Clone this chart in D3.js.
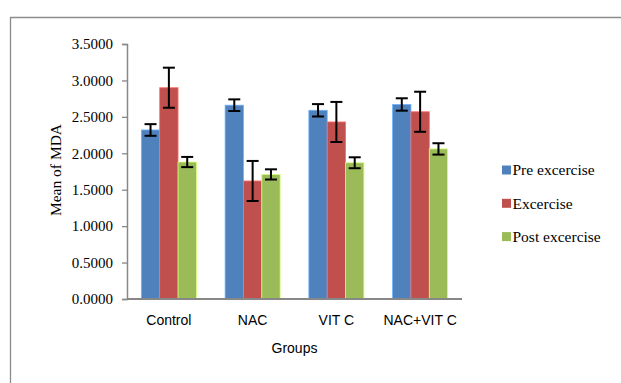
<!DOCTYPE html>
<html>
<head>
<meta charset="utf-8">
<script src="https://cdn.jsdelivr.net/npm/d3@7"></script>
<style>
  body { margin: 0; background: #fff; }
</style>
</head>
<body>
<div id="chart"></div>
<script>
// data
const groups = ['Control', 'NAC', 'VIT C', 'NAC+VIT C'];
const series = ['Pre excercise', 'Excercise', 'Post excercise'];
const colors = ['#4F81BD', '#C0504D', '#9BBB59'];
const preMeans = [2.32, 2.66, 2.59, 2.67];
const preErr = [0.08, 0.08, 0.085, 0.085];
const exMeans = [2.90, 1.62, 2.43, 2.57];
const exErr = [0.275, 0.275, 0.275, 0.275];
const postMeans = [1.88, 1.71, 1.87, 2.06];
const postErr = [0.07, 0.07, 0.075, 0.078];
const yTicks = [0, 0.5, 1, 1.5, 2, 2.5, 3, 3.5];

const means = [preMeans, exMeans, postMeans];
const errs = [preErr, exErr, postErr];

const serif = '"Liberation Serif", "Times New Roman", serif';
const sans = '"Liberation Sans", Arial, sans-serif';

const width = 621, height = 383;
const plot = {left: 127, right: 462, top: 44, bottom: 299};

const svg = d3.select('#chart').append('svg')
    .attr('width', width)
    .attr('height', height);

// outer chart border (only top and left visible)
svg.append('path')
    .attr('d', 'M10.5,' + height + ' V17.5 H' + width)
    .attr('fill', 'none')
    .attr('stroke', '#8c8c8c')
    .attr('stroke-width', 1.3);

const yScale = d3.scaleLinear()
    .domain([0, 3.5])
    .range([plot.bottom, plot.top]);

const x0 = d3.scaleBand()
    .domain(groups)
    .range([plot.left, plot.right])
    .paddingInner(0.343)
    .paddingOuter(0.1715);

const x1 = d3.scaleBand()
    .domain(d3.range(series.length))
    .range([0, x0.bandwidth()]);

// y axis
const yAxis = svg.append('g')
    .attr('transform', 'translate(' + plot.left + ',0)')
    .call(d3.axisLeft(yScale).tickValues(yTicks).tickSize(5).tickPadding(9)
        .tickFormat(d3.format('.4f')));
yAxis.select('.domain').attr('stroke', '#878787').attr('stroke-width', 1.5);
yAxis.selectAll('.tick line').attr('stroke', '#878787').attr('stroke-width', 1.3);
yAxis.selectAll('.tick text')
    .attr('fill', '#000')
    .style('font-family', serif)
    .style('font-size', '15px');

// bars
const rows = [];
groups.forEach((g, gi) => {
    series.forEach((s, si) => {
        rows.push({group: g, si: si, value: means[si][gi], err: errs[si][gi]});
    });
});

const bar = svg.selectAll('.bar')
    .data(rows)
    .enter().append('g')
    .attr('class', 'bar')
    .attr('transform', d => 'translate(' + (x0(d.group) + x1(d.si)) + ',0)');

bar.append('rect')
    .attr('x', 0)
    .attr('y', d => yScale(d.value))
    .attr('width', x1.bandwidth())
    .attr('height', d => plot.bottom - yScale(d.value))
    .attr('fill', d => colors[d.si])
    .attr('stroke', d => d3.color(colors[d.si]).brighter(0.9))
    .attr('stroke-width', 0.8);

// x axis line
svg.append('line')
    .attr('x1', plot.left)
    .attr('x2', plot.right)
    .attr('y1', plot.bottom)
    .attr('y2', plot.bottom)
    .attr('stroke', '#878787')
    .attr('stroke-width', 2);

// error bars
const cx = x1.bandwidth() / 2, cap = 6;
bar.append('line')
    .attr('x1', cx).attr('x2', cx)
    .attr('y1', d => yScale(d.value + d.err))
    .attr('y2', d => yScale(d.value - d.err))
    .attr('stroke', '#000').attr('stroke-width', 2);
bar.append('line')
    .attr('x1', cx - cap).attr('x2', cx + cap)
    .attr('y1', d => yScale(d.value + d.err))
    .attr('y2', d => yScale(d.value + d.err))
    .attr('stroke', '#000').attr('stroke-width', 2);
bar.append('line')
    .attr('x1', cx - cap).attr('x2', cx + cap)
    .attr('y1', d => yScale(d.value - d.err))
    .attr('y2', d => yScale(d.value - d.err))
    .attr('stroke', '#000').attr('stroke-width', 2);

// category labels
svg.selectAll('.cat-label')
    .data(groups)
    .enter().append('text')
    .attr('class', 'cat-label')
    .attr('x', d => x0(d) + x0.bandwidth() / 2)
    .attr('y', 325)
    .attr('text-anchor', 'middle')
    .style('font-family', sans)
    .style('font-size', '14px')
    .text(d => d);

svg.append('text')
    .attr('x', 294.5)
    .attr('y', 352.5)
    .attr('text-anchor', 'middle')
    .style('font-family', sans)
    .style('font-size', '14px')
    .text('Groups');

svg.append('text')
    .attr('transform', 'translate(61,170) rotate(-90)')
    .attr('text-anchor', 'middle')
    .style('font-family', serif)
    .style('font-size', '15.5px')
    .text('Mean of MDA');

// legend
const legend = svg.selectAll('.legend')
    .data(series)
    .enter().append('g')
    .attr('class', 'legend')
    .attr('transform', (d, i) => 'translate(502,' + (170 + i * 33.3) + ')');

legend.append('rect')
    .attr('x', 0)
    .attr('y', -4.5)
    .attr('width', 9)
    .attr('height', 9)
    .attr('fill', (d, i) => colors[i]);

legend.append('text')
    .attr('x', 10.5)
    .attr('y', 0)
    .attr('dy', '0.35em')
    .style('font-family', serif)
    .style('font-size', '15.5px')
    .text(d => d);
</script>
</body>
</html>
